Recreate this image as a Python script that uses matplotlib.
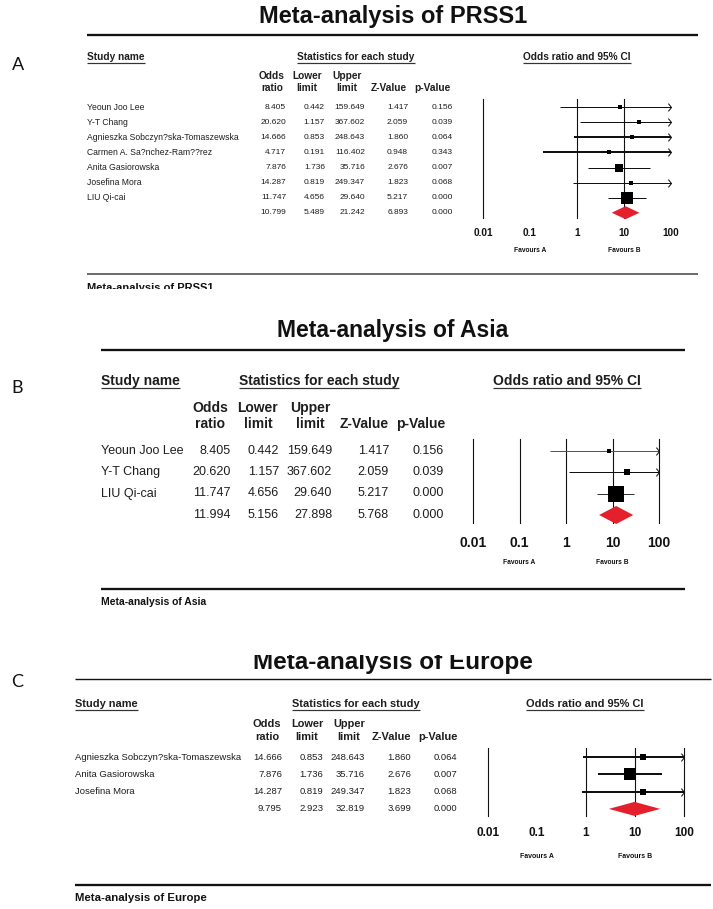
import numpy as np
import matplotlib
matplotlib.use("Agg")
import matplotlib.pyplot as plt
from matplotlib.path import Path
from matplotlib.transforms import blended_transform_factory, Bbox

W, H = 713, 909
PT = 0.72  # points per pixel at dpi 100

# ---------------- data ----------------
studies_A = ["Yeoun Joo Lee", "Y-T Chang", "Agnieszka Sobczyn?ska-Tomaszewska",
             "Carmen A. Sa?nchez-Ram??rez", "Anita Gasiorowska", "Josefina Mora", "LIU Qi-cai"]
or_A = [8.405, 20.620, 14.666, 4.717, 7.876, 14.287, 11.747]
lower_A = [0.442, 1.157, 0.853, 0.191, 1.736, 0.819, 4.656]
upper_A = [159.649, 367.602, 248.643, 116.402, 35.716, 249.347, 29.640]
z_A = [1.417, 2.059, 1.860, 0.948, 2.676, 1.823, 5.217]
p_A = [0.156, 0.039, 0.064, 0.343, 0.007, 0.068, 0.000]
summary_A = [10.799, 5.489, 21.242, 6.893, 0.000]

studies_B = ["Yeoun Joo Lee", "Y-T Chang", "LIU Qi-cai"]
or_B = [8.405, 20.620, 11.747]
lower_B = [0.442, 1.157, 4.656]
upper_B = [159.649, 367.602, 29.640]
z_B = [1.417, 2.059, 5.217]
p_B = [0.156, 0.039, 0.000]
summary_B = [11.994, 5.156, 27.898, 5.768, 0.000]

studies_C = ["Agnieszka Sobczyn?ska-Tomaszewska", "Anita Gasiorowska", "Josefina Mora"]
or_C = [14.666, 7.876, 14.287]
lower_C = [0.853, 1.736, 0.819]
upper_C = [248.643, 35.716, 249.347]
z_C = [1.860, 2.676, 1.823]
p_C = [0.064, 0.007, 0.068]
summary_C = [9.795, 2.923, 32.819, 3.699, 0.000]

titles = ["Meta-analysis of PRSS1", "Meta-analysis of Asia", "Meta-analysis of Europe"]
panel_letters = ["A", "B", "C"]
tick_values = [0.01, 0.1, 1, 10, 100]
tick_labels = ["0.01", "0.1", "1", "10", "100"]
col_head_top = ["Odds", "Lower", "Upper", "", ""]
col_head_bot = ["ratio", "limit", "limit", "Z-Value", "p-Value"]
section_heads = ["Study name", "Statistics for each study", "Odds ratio and 95% CI"]
favours_labels = ["Favours A", "Favours B"]
favours_values = [0.1, 10]

# ---------------- layout / style ----------------
layouts = [
    dict(letter=(12, 65), title_y=17, title_fs=17, top_line=(35, 87, 698, 2.3), head_y=57, head_fs=7.3,
         study_x=87, stats_cx=356, or_cx=577, ul_off=6, ch_y=(76, 88), ch_cx=[272, 307, 347, 389, 432],
         ch_fs=7.3, name_fs=6.2, num_fs=6.0, num_rx=[286, 325, 365, 408, 453], y0=107.3, dy=15.06,
         x001=483, x100=671, ytop=99, ybot=218, vlines=[0.01, 1, 10], tick_y=233, tick_fs=7.2,
         fav_y=250, fav_fs=4.8, bot_line=(273.5, 87, 698, 1.7, "#555555"), bot_text_y=288, bot_fs=8,
         bot_clip=289, title_clip=None, sq_k=5.66, dia_h=6.5, row_lw=[1, 1, 2, 2, 1, 1, 1],
         row_col=["#111111"] * 7),
    dict(letter=(11, 388), title_y=330, title_fs=16.5, top_line=(350, 101, 685, 2.3), head_y=381, head_fs=10,
         study_x=101, stats_cx=319, or_cx=567, ul_off=7, ch_y=(408, 424), ch_cx=[210.5, 258, 310, 364, 421],
         ch_fs=10, name_fs=9, num_fs=9, num_rx=[231, 279, 332, 389, 444], y0=450.5, dy=21.5,
         x001=473, x100=659, ytop=439, ybot=523, vlines=[0.01, 0.1, 1, 10, 100], tick_y=543, tick_fs=10,
         fav_y=562, fav_fs=4.8, bot_line=(589, 101, 685, 2.3, "#111111"), bot_text_y=602, bot_fs=7.5,
         bot_clip=None, title_clip=None, sq_k=7.5, dia_h=9, row_lw=[1, 1, 1],
         row_col=["#555555", "#111111", "#333333"]),
    dict(letter=(11, 682), title_y=662, title_fs=17.5, top_line=(679, 75, 711, 1.4), head_y=704, head_fs=7.9,
         study_x=75, stats_cx=356, or_cx=585, ul_off=5.5, ch_y=(724, 737), ch_cx=[267, 307, 349, 391, 438],
         ch_fs=7.9, name_fs=6.8, num_fs=6.8, num_rx=[282, 323, 365, 411, 457], y0=757, dy=17.3,
         x001=488, x100=684, ytop=748, ybot=816, vlines=[0.01, 1, 10, 100], tick_y=833, tick_fs=8.5,
         fav_y=857, fav_fs=5, bot_line=(885, 75, 711, 2.3, "#111111"), bot_text_y=898, bot_fs=8.2,
         bot_clip=None, title_clip=655, sq_k=9.2, dia_h=7, row_lw=[2, 2, 2],
         row_col=["#111111"] * 3),
]

panels = [
    (studies_A, or_A, lower_A, upper_A, z_A, p_A, summary_A),
    (studies_B, or_B, lower_B, upper_B, z_B, p_B, summary_B),
    (studies_C, or_C, lower_C, upper_C, z_C, p_C, summary_C),
]

FONT = "Liberation Sans"
TXT = "#1e1e1e"
RED = "#e3202b"

fig = plt.figure(figsize=(W / 100, H / 100), dpi=100)
fig.patch.set_facecolor("white")
bg = fig.add_axes([0, 0, 1, 1])
bg.set_xlim(0, W)
bg.set_ylim(H, 0)
bg.axis("off")

chevron = Path([(-0.8, 1.0), (0, 0), (-0.8, -1.0)], [Path.MOVETO, Path.LINETO, Path.LINETO])

underline_jobs = []

for (names, ors, los, his, zs, ps, summ), L, title, letter in zip(panels, layouts, titles, panel_letters):
    # panel letter
    bg.text(L["letter"][0], L["letter"][1], letter, fontsize=13, family="Lato", ha="left", va="center",
            color="#111111")
    # title
    t = bg.text(393, L["title_y"], title, fontsize=L["title_fs"], family=FONT, weight="bold",
                ha="center", va="center", color="#111111")
    if L["title_clip"] is not None:
        t.set_clip_box(Bbox.from_extents(0, 0, W, H - L["title_clip"]))
        t.set_clip_on(True)
    # top line
    y, x0, x1, lw = L["top_line"]
    bg.plot([x0, x1], [y, y], color="#111111", lw=lw * PT, solid_capstyle="butt")
    # section headers
    hs = []
    hs.append(bg.text(L["study_x"], L["head_y"], section_heads[0], fontsize=L["head_fs"], family=FONT,
                      weight="bold", ha="left", va="center", color=TXT))
    hs.append(bg.text(L["stats_cx"], L["head_y"], section_heads[1], fontsize=L["head_fs"], family=FONT,
                      weight="bold", ha="center", va="center", color=TXT))
    hs.append(bg.text(L["or_cx"], L["head_y"], section_heads[2], fontsize=L["head_fs"], family=FONT,
                      weight="bold", ha="center", va="center", color=TXT))
    underline_jobs.append((hs, L["head_y"] + L["ul_off"]))
    # column headers
    for cx, a, b in zip(L["ch_cx"], col_head_top, col_head_bot):
        if a:
            bg.text(cx, L["ch_y"][0], a, fontsize=L["ch_fs"], family=FONT, weight="bold",
                    ha="center", va="center", color=TXT)
        bg.text(cx, L["ch_y"][1], b, fontsize=L["ch_fs"], family=FONT, weight="bold",
                ha="center", va="center", color=TXT)
    # table rows
    n = len(names)
    for i in range(n + 1):
        yy = L["y0"] + i * L["dy"]
        if i < n:
            bg.text(L["study_x"], yy, names[i], fontsize=L["name_fs"], family=FONT, ha="left",
                    va="center", color=TXT)
            vals = [ors[i], los[i], his[i], zs[i], ps[i]]
        else:
            vals = summ
        for rx, v in zip(L["num_rx"], vals):
            bg.text(rx, yy, f"{v:.3f}", fontsize=L["num_fs"], family=FONT, ha="right",
                    va="center", color=TXT)

    # forest plot axes
    ax = fig.add_axes([L["x001"] / W, 1 - L["ybot"] / H, (L["x100"] - L["x001"]) / W,
                       (L["ybot"] - L["ytop"]) / H])
    ax.set_xscale("log")
    ax.set_xlim(0.01, 100)
    ax.set_ylim((L["ybot"] - L["y0"]) / L["dy"], (L["ytop"] - L["y0"]) / L["dy"])
    ax.axis("off")
    for v in L["vlines"]:
        ax.axvline(v, color="#111111", lw=1.1 * PT, zorder=1, clip_on=False)
    se = [(np.log(h) - np.log(l)) / (2 * 1.96) for l, h in zip(los, his)]
    wts = [1.0 / s ** 2 for s in se]
    for i in range(n):
        hi = min(his[i], 100)
        ax.plot([los[i], hi], [i, i], color=L["row_col"][i], lw=L["row_lw"][i] * PT, solid_capstyle="butt",
                zorder=2, clip_on=False)
        if his[i] > 100:
            ax.plot([100], [i], marker=chevron, markersize=6 * PT * 1.3, mfc="none", mec="#111111",
                    mew=0.8 * PT * 1.3, zorder=3, clip_on=False)
        side = L["sq_k"] * np.sqrt(wts[i])
        ax.plot([ors[i]], [i], marker="s", markersize=side * PT, color="black", mew=0, zorder=4,
                clip_on=False)
    hh = L["dia_h"] / L["dy"]
    ax.fill([summ[1], summ[0], summ[2], summ[0]], [n, n - hh, n, n + hh], color=RED, lw=0, zorder=4,
            clip_on=False)

    tr = blended_transform_factory(ax.transData, bg.transData)
    for v, lab in zip(tick_values, tick_labels):
        bg.text(v, L["tick_y"], lab, transform=tr, fontsize=L["tick_fs"], family=FONT, weight="bold",
                ha="center", va="center", color="#111111")
    for v, lab in zip(favours_values, favours_labels):
        bg.text(v, L["fav_y"], lab, transform=tr, fontsize=L["fav_fs"], family=FONT, weight="bold",
                ha="center", va="center", color="#111111")

    # bottom line and caption
    y, x0, x1, lw, col = L["bot_line"]
    bg.plot([x0, x1], [y, y], color=col, lw=lw * PT, solid_capstyle="butt")
    bt = bg.text(L["study_x"], L["bot_text_y"], title, fontsize=L["bot_fs"], family=FONT, weight="bold",
                 ha="left", va="center", color="#111111")
    if L["bot_clip"] is not None:
        bt.set_clip_box(Bbox.from_extents(0, H - L["bot_clip"], W, H))
        bt.set_clip_on(True)

# underlines under the section headers
fig.canvas.draw()
inv = bg.transData.inverted()
for hs, uy in underline_jobs:
    for t in hs:
        bb = t.get_window_extent()
        xa = inv.transform((bb.x0, bb.y0))[0]
        xb = inv.transform((bb.x1, bb.y0))[0]
        bg.plot([xa, xb], [uy, uy], color="#333333", lw=1.2 * PT, solid_capstyle="butt")

fig.savefig("out.png", dpi=100)
